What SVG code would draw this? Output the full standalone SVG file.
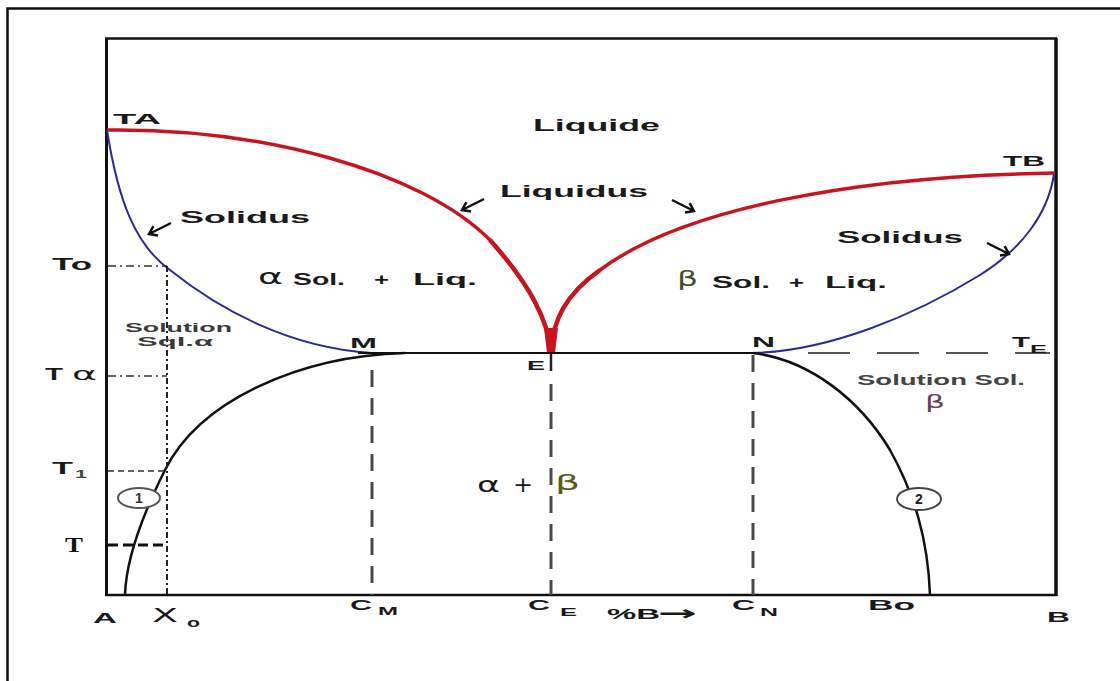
<svg xmlns="http://www.w3.org/2000/svg" width="1120" height="681" viewBox="0 0 1120 681">
<defs>
<style>
.t{font-family:"Liberation Sans",Arial,sans-serif;font-weight:bold;fill:#1a1a1a}
.g{font-family:"DejaVu Sans","Liberation Sans",sans-serif;font-weight:normal;fill:#1a1a1a}
.ax{stroke:#111;fill:none}
.red{stroke:#c8141e;stroke-width:3.5;fill:none}
.redT{stroke:#c8141e;stroke-width:4.5;fill:none}
.blue{stroke:#2b2b95;stroke-width:2;fill:none}
.blk{stroke:#111;stroke-width:2.5;fill:none}
.vd{stroke:#4a4a4a;stroke-width:3;stroke-dasharray:17 11;fill:none}
.dd{stroke:#333;stroke-width:1.5;stroke-dasharray:8 4 2 4;fill:none}
.arr{stroke:#111;stroke-width:2.5;fill:none;stroke-linecap:butt}
</style>
<g id="arrSW"><path class="arr" d="M11,-5 L-11,6 M-2,7.5 L-11,6 L-6.6,-1.8"/></g>
<g id="arrSE"><path class="arr" d="M-11,-5 L11,6 M2,7.5 L11,6 L6.6,-1.8"/></g>
</defs>
<rect x="0" y="0" width="1120" height="681" fill="#fff"/>
<g id="outer-frame"><path d="M7.5,700 L7.5,8.5 L1125,8.5" stroke="#111" stroke-width="2.5" fill="none"/></g>
<g id="plot-frame">
<path class="ax" d="M106.5,595 L106.5,38" stroke-width="3"/>
<path class="ax" d="M105,38.5 L1057,38.5" stroke-width="2.5"/>
<path class="ax" d="M1056,38 L1056,596" stroke-width="3.5"/>
<path class="ax" d="M105,595 L1057,595" stroke-width="2.5"/>
</g>
<g id="connectors">
<path id="liquidus-left" class="red" d="M107,130 C260,128 420,170 490,240 C530,285 548,320 551,352"/>
<path id="liquidus-right" class="red" d="M551,352 C553,320 565,295 600,270 C680,210 850,176 1055,173"/>
<path id="liquidus-left-thick" class="redT" d="M490,240 C530,285 548,320 551,352"/>
<path id="liquidus-right-thick" class="redT" d="M551,352 C553,320 565,295 600,270"/>
<path id="eutectic-stem" fill="#c8141e" d="M544,328 L558,328 L555,353 L547,353 Z"/>
<path id="solidus-left" class="blue" d="M107,130 C118,200 135,245 170,270 C220,310 290,348 372,353"/>
<path id="solidus-right" class="blue" d="M1054,174 C1048,215 1020,250 980,275 C915,315 830,351 753,353"/>
<path id="solvus-left" class="blk" d="M405,353 C300,356 200,400 165,470 C140,520 126,560 125,595"/>
<path id="solvus-right" class="blk" d="M753,353 C810,360 860,400 890,450 C915,495 928,540 930,595"/>
<path id="eutectic-line" stroke="#111" stroke-width="2" d="M358,353 L753,353"/>
<path id="te-line" stroke="#555" stroke-width="2" stroke-dasharray="42 27" d="M808,353 L1050,353"/>
<path id="cm-line" class="vd" d="M372,370 L372,595"/>
<path id="e-bar" stroke="#222" stroke-width="2.5" d="M551,353 L551,371"/>
<path id="ce-line" class="vd" d="M551,384 L551,595"/>
<path id="cn-line" class="vd" d="M753,355 L753,595"/>
<path id="to-line" class="dd" d="M108,266 L167,266"/>
<path id="ta-line" class="dd" d="M108,376 L167,376"/>
<path id="t1-line" stroke="#333" stroke-width="1.5" stroke-dasharray="6 4" d="M108,471 L167,471"/>
<path id="t-line" stroke="#111" stroke-width="3" stroke-dasharray="10 5" d="M108,545 L168,545"/>
<path id="xo-line" stroke="#222" stroke-width="2" stroke-dasharray="6 3 2 3" d="M167,266 L167,595"/>
</g>
<g id="arrows">
<use href="#arrSW" x="160" y="228"/>
<use href="#arrSW" x="473" y="204"/>
<use href="#arrSE" x="683" y="205"/>
<use href="#arrSE" x="998" y="248"/>
</g>
<g id="node-TA"><text class="t" x="113" y="124" font-size="15" textLength="48" lengthAdjust="spacingAndGlyphs">TA</text></g>
<g id="node-TB"><text class="t" x="1003" y="166" font-size="15" textLength="42" lengthAdjust="spacingAndGlyphs">TB</text></g>
<g id="node-liquide"><text class="t" x="533" y="131" font-size="17" textLength="127" lengthAdjust="spacingAndGlyphs">Liquide</text></g>
<g id="node-liquidus"><text class="t" x="500" y="197" font-size="17" textLength="148" lengthAdjust="spacingAndGlyphs">Liquidus</text></g>
<g id="node-solidus-left"><text class="t" x="180" y="223" font-size="17" textLength="130" lengthAdjust="spacingAndGlyphs">Solidus</text></g>
<g id="node-solidus-right"><text class="t" x="837" y="243" font-size="16" textLength="126" lengthAdjust="spacingAndGlyphs">Solidus</text></g>
<g id="node-alpha-liq">
<text class="g" x="258" y="284" font-size="21" textLength="25" lengthAdjust="spacingAndGlyphs">α</text>
<text class="t" x="293" y="285" font-size="17" textLength="52" lengthAdjust="spacingAndGlyphs">Sol.</text>
<text class="t" x="374" y="285" font-size="17" textLength="15" lengthAdjust="spacingAndGlyphs">+</text>
<text class="t" x="413" y="285" font-size="17" textLength="64" lengthAdjust="spacingAndGlyphs">Liq.</text>
</g>
<g id="node-beta-liq">
<text class="g" x="677" y="286" font-size="22" textLength="21" lengthAdjust="spacingAndGlyphs" style="fill:#3f4f2a">β</text>
<text class="t" x="712" y="288" font-size="17" textLength="58" lengthAdjust="spacingAndGlyphs">Sol.</text>
<text class="t" x="789" y="288" font-size="17" textLength="15" lengthAdjust="spacingAndGlyphs">+</text>
<text class="t" x="825" y="288" font-size="17" textLength="62" lengthAdjust="spacingAndGlyphs">Liq.</text>
</g>
<g id="node-sol-alpha">
<text class="t" x="125" y="332" font-size="13" textLength="107" lengthAdjust="spacingAndGlyphs" style="fill:#3a3a3a">Solution</text>
<text class="t" x="137" y="346" font-size="13" textLength="76" lengthAdjust="spacingAndGlyphs" style="fill:#3a3a3a">Sql.α</text>
</g>
<g id="node-M"><text class="t" x="350" y="348" font-size="14" textLength="27" lengthAdjust="spacingAndGlyphs">M</text></g>
<g id="node-E"><text class="t" x="527" y="370" font-size="12" textLength="18" lengthAdjust="spacingAndGlyphs">E</text></g>
<g id="node-N"><text class="t" x="752" y="347" font-size="14" textLength="23" lengthAdjust="spacingAndGlyphs">N</text></g>
<g id="node-TE">
<text class="t" x="1012" y="347" font-size="14" textLength="18" lengthAdjust="spacingAndGlyphs">T</text>
<text class="t" x="1030" y="353" font-size="11" textLength="17" lengthAdjust="spacingAndGlyphs">E</text>
</g>
<g id="node-sol-beta">
<text class="t" x="857" y="385" font-size="14" textLength="168" lengthAdjust="spacingAndGlyphs" style="fill:#444">Solution Sol.</text>
<text class="g" x="925" y="408" font-size="18" textLength="20" lengthAdjust="spacingAndGlyphs" style="fill:#6a3a5a">β</text>
</g>
<g id="node-alpha-beta">
<text class="g" x="477" y="492" font-size="22" textLength="23" lengthAdjust="spacingAndGlyphs">α</text>
<text class="g" x="513" y="492" font-size="22" textLength="20" lengthAdjust="spacingAndGlyphs">+</text>
<text class="g" x="555" y="490" font-size="22" textLength="25" lengthAdjust="spacingAndGlyphs" style="fill:#5a5a20">β</text>
</g>
<g id="node-1">
<ellipse cx="139" cy="498" rx="21" ry="10" fill="#fff" stroke="#555" stroke-width="2"/>
<text class="t" x="139" y="503" font-size="14" text-anchor="middle" style="fill:#333">1</text>
</g>
<g id="node-2">
<ellipse cx="919" cy="499" rx="22" ry="11" fill="#fff" stroke="#444" stroke-width="2"/>
<text class="t" x="919" y="504" font-size="14" text-anchor="middle" style="fill:#222">2</text>
</g>
<g id="node-To"><text class="t" x="52" y="270" font-size="16" textLength="40" lengthAdjust="spacingAndGlyphs">To</text></g>
<g id="node-Talpha">
<text class="t" x="45" y="380" font-size="16" textLength="18" lengthAdjust="spacingAndGlyphs">T</text>
<text class="g" x="72" y="380" font-size="18" textLength="25" lengthAdjust="spacingAndGlyphs">α</text>
</g>
<g id="node-T1">
<text class="t" x="52" y="474" font-size="16" textLength="21" lengthAdjust="spacingAndGlyphs">T</text>
<text class="t" x="75" y="478" font-size="11" textLength="12" lengthAdjust="spacingAndGlyphs" style="fill:#3a4a3a">1</text>
</g>
<g id="node-T"><text x="65" y="552" font-family="'Liberation Serif','Times New Roman',serif" font-weight="bold" font-size="20" textLength="18" lengthAdjust="spacingAndGlyphs" fill="#111">T</text></g>
<g id="node-A"><text class="t" x="93" y="623" font-size="14" textLength="24" lengthAdjust="spacingAndGlyphs">A</text></g>
<g id="node-Xo">
<text class="g" x="152" y="622" font-size="19" textLength="26" lengthAdjust="spacingAndGlyphs">X</text>
<text class="t" x="187" y="627" font-size="12" textLength="13" lengthAdjust="spacingAndGlyphs">o</text>
</g>
<g id="node-CM">
<text class="t" x="350" y="610" font-size="14" textLength="22" lengthAdjust="spacingAndGlyphs">C</text>
<text class="t" x="378" y="615" font-size="11" textLength="20" lengthAdjust="spacingAndGlyphs">M</text>
</g>
<g id="node-CE">
<text class="t" x="528" y="610" font-size="14" textLength="22" lengthAdjust="spacingAndGlyphs">C</text>
<text class="t" x="560" y="616" font-size="11" textLength="17" lengthAdjust="spacingAndGlyphs">E</text>
</g>
<g id="node-pctB">
<text class="t" x="607" y="619" font-size="14" textLength="53" lengthAdjust="spacingAndGlyphs">%B</text>
<text class="g" x="658" y="620" font-size="20" textLength="39" lengthAdjust="spacingAndGlyphs" style="font-weight:bold">→</text>
</g>
<g id="node-CN">
<text class="t" x="732" y="610" font-size="14" textLength="23" lengthAdjust="spacingAndGlyphs">C</text>
<text class="t" x="760" y="616" font-size="11" textLength="18" lengthAdjust="spacingAndGlyphs">N</text>
</g>
<g id="node-Bo"><text class="t" x="868" y="610" font-size="14" textLength="47" lengthAdjust="spacingAndGlyphs">Bo</text></g>
<g id="node-B"><text class="t" x="1047" y="622" font-size="14" textLength="23" lengthAdjust="spacingAndGlyphs">B</text></g>
</svg>
